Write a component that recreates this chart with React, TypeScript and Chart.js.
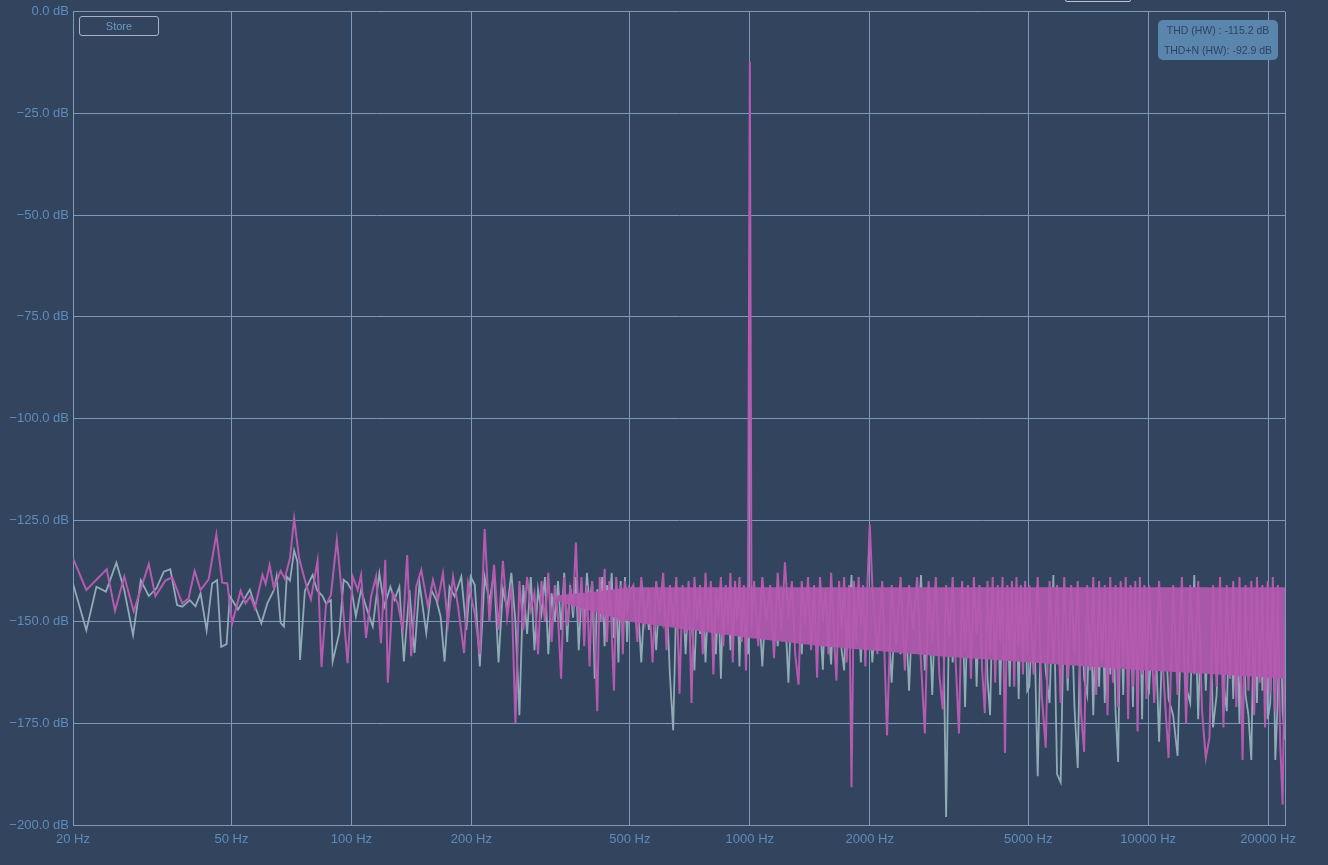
import React, { useEffect, useRef } from "react";
import { Chart, registerables } from "chart.js";

Chart.register(...registerables);

const BG = "#33445f";
const GRID = "#7d9aba";
const LABEL = "#5e8cbb";
const MAGENTA = "#b45bb0";
const BAND = "#a957a8";
const GREY = "#90abb6";

const xTickValues = [20, 50, 100, 200, 500, 1000, 2000, 5000, 10000, 20000];

// Low-frequency part, magenta trace (Hz / dB)
const magLowFreq = [
  20.0, 21.6, 24.3, 25.5, 26.9, 28.4, 31.0, 32.2, 34.1, 35.5,
  37.6, 39.0, 40.4, 41.8, 43.8, 45.8, 47.4, 48.8, 50.2, 52.7,
  54.2, 55.8, 57.2, 59.8, 60.9, 62.3, 63.9, 66.4, 68.0, 70.1,
  71.8, 73.9, 76.8, 79.1, 82.2, 84.1, 86.3, 88.8,
  91.9, 94.1, 97.8, 100.7, 103.7, 105.7, 108.8, 112.0, 115.3, 118.6,
  121.6, 123.4, 127.0, 130.7, 134.6, 138.0, 141.2, 145.4, 149.7, 155.6,
  160.2, 164.9, 169.7, 174.7, 179.9, 185.2, 191.7, 196.2,
];
const magLowDb = [
  -134.4, -142.2, -137.1, -147.3, -138.9, -147.5, -135.8, -143.7, -139.9, -139.1,
  -145.5, -144.3, -137.5, -142.2, -139.6, -128.5, -140.4, -140.6, -150.4, -142.4,
  -145.5, -143.7, -146.7, -138.5, -140.7, -136.1, -141.8, -137.5, -139.4, -134.4,
  -124.6, -134.4, -140.6, -144.5, -135, -161.1, -145.9, -143.4,
  -129.9, -140.5, -160.2, -138.9, -142.2, -138.5, -154, -143.8, -138.9, -155.3,
  -134.8, -165, -143, -145.5, -152, -133.6, -158.5, -141.4, -137.3, -146.3,
  -139.7, -144.6, -138.1, -150.4, -138.9, -146.3, -157.7, -140.5,
];

// Low-frequency part, grey trace (Hz / dB)
const greyLowFreq = [
  20.0, 21.6, 22.9, 24.2, 25.7, 26.9, 28.3, 29.6, 31.0, 32.4,
  33.8, 35.1, 36.5, 37.6, 39.3, 40.6, 41.8, 43.3, 44.7, 46.0,
  47.1, 48.6, 49.5, 51.9, 55.6, 57.5, 59.4, 61.5, 63.9, 64.9,
  66.4, 67.7, 68.8, 70.1, 71.8, 73.2, 74.3, 76.4, 79.9, 81.9,
  84.6, 86.3, 88.8,
  89.7, 93.2, 95.6, 97.8, 100.1, 102.6, 105.7, 108.8, 113.1, 117.5,
  120.9, 125.2, 128.2, 131.9, 135.4, 139.8, 144.0, 148.2, 154.1, 158.6,
  163.3, 167.4, 171.3, 176.3, 181.5, 188.7, 194.3, 199.2,
];
const greyLowDb = [
  -140.6, -152.1, -141.4, -142.6, -135.5, -142.2, -153.3, -139.8, -143.7, -141.8,
  -137.7, -137.1, -145.9, -146.3, -144.7, -146.2, -143, -152.1, -140.6, -139.8,
  -156.2, -155.5, -143.7, -147, -142.1, -146.7, -150.4, -145.5, -142.2, -138.8,
  -150.3, -151.2, -138.9, -139.9, -132.5, -135.3, -159.4, -142.4, -138.5, -142.2,
  -143.7, -145.5, -144.7,
  -159.8, -152.8, -139.7, -140.5, -142.2, -148.7, -142.2, -146.3, -151.2, -138.1,
  -146.3, -141.4, -144.6, -141.4, -159.8, -142.2, -157.7, -140.5, -152.8, -142.2,
  -144.6, -148.7, -159.8, -141.4, -143.8, -138.9, -152, -138.9,
];

// Shared frequency bins above 200 Hz
const hiFreq = [
  204, 210, 216, 222, 228, 234, 240, 246, 252, 258, 264, 270, 276, 282, 288, 294, 300, 306, 312, 318,
  324, 330, 336, 342, 348, 354, 360, 366, 372, 378, 384, 390, 396, 402, 408, 414, 420, 426, 432, 438,
  444, 450, 456, 462, 468, 474, 480, 486, 492, 498,
  510, 522, 534, 546, 558, 570, 582, 594, 606, 618, 630, 642, 654, 666, 678, 690, 702, 714, 726, 738,
  750, 762, 774, 786, 798, 810, 822, 834, 846, 858, 870, 882, 894, 906, 918, 930, 942, 954, 966, 978, 990,
  1000, 1010,
  1025, 1050, 1075, 1100, 1125, 1150, 1175, 1200, 1225, 1250, 1275, 1300, 1325, 1350, 1375, 1400, 1425,
  1450, 1475, 1500, 1525, 1550, 1575, 1600, 1625, 1650, 1675, 1700, 1725, 1750, 1775, 1800, 1825, 1850,
  1875, 1900, 1925, 1950, 1975,
  2000,
  2030, 2090, 2150, 2210, 2270, 2330, 2390, 2450, 2510, 2570, 2630, 2690, 2750, 2810, 2870, 2930, 2990,
  3050, 3110, 3170, 3230, 3290, 3350, 3410, 3470, 3530, 3590, 3650, 3710, 3770, 3830, 3890, 3950, 4010,
  4070, 4130, 4190, 4250, 4310, 4370, 4430, 4490, 4550, 4610, 4670, 4730, 4790, 4850, 4910, 4970,
  5030, 5155, 5280, 5405, 5530, 5655, 5780, 5905, 6030, 6155, 6280, 6405, 6530, 6655, 6780, 6905, 7030,
  7155, 7280, 7405, 7530, 7655, 7780, 7905, 8030, 8155, 8280, 8405, 8530, 8655, 8780, 8905, 9030, 9155,
  9280, 9405, 9530, 9655, 9780, 9905,
  10050, 10350, 10650, 10950, 11250, 11550, 11850, 12150, 12450, 12750, 13050, 13350, 13650, 13950,
  14250, 14550, 14850, 15150, 15450, 15750, 16050, 16350, 16650, 16950, 17250, 17550, 17850, 18150,
  18450, 18750, 19050, 19350, 19650, 19950, 20250, 20550, 20850, 21150, 21450, 21750, 22050,
];

const magHiDb = [
  -148, -158, -127.2, -150, -136, -152, -135, -149, -141, -175,
  -140, -152, -139, -147, -143, -158, -140, -150, -138, -155,
  -141, -149, -164, -139, -151, -142, -146, -130.5, -150, -139,
  -156, -141, -161, -140, -153, -172, -139, -150, -137, -155,
  -140, -152, -167, -139, -150, -141, -158, -140, -148, -143,
  -141, -155, -139, -150, -142, -160, -140, -148, -138, -157,
  -141, -151, -139, -167.7, -141, -153, -140, -170, -139, -150,
  -141, -158, -138, -152, -140, -163, -142, -149, -139, -156,
  -141, -151, -138, -160, -140, -150, -139, -155, -141, -162,
  -140,
  -12.3, -152,
  -140, -156, -139, -150, -141, -159, -138, -152, -135.4, -149,
  -140, -158, -165.5, -140, -151, -139, -157, -141, -163.8, -139,
  -150, -142, -158, -138, -153, -164.5, -140, -152, -139, -160,
  -141, -190.7, -140, -155, -139, -151, -141, -161, -140,
  -126.1,
  -141, -158, -140, -178, -141, -156, -139, -162, -141, -152,
  -139, -160, -177.5, -140, -155, -139, -163, -171.5, -141, -154,
  -139, -161, -177.5, -140, -157, -141, -164, -139, -153, -141,
  -162, -172.5, -140, -158, -139, -165, -141, -155, -139, -182.3,
  -141, -159, -140, -166, -139, -156, -141, -163, -140, -158,
  -141, -163, -139, -168, -181, -140, -160, -141, -170, -139,
  -164, -141, -158, -140, -172, -182, -141, -162, -139, -168,
  -140, -160, -141, -173, -139, -165, -141, -171, -140, -161,
  -139, -174, -141, -166, -140, -177, -139, -163, -141, -169,
  -141, -170, -140, -165, -183.5, -141, -168, -139, -175, -141,
  -163, -140, -172, -183.5, -178.5, -141, -166, -139, -176, -141,
  -164, -140, -171, -139, -184, -141, -167, -140, -173, -139,
  -165, -141, -176, -140, -168, -139, -172, -141, -180, -195,
  -150,
];

const greyHiDb = [
  -141, -161, -139, -145, -138, -160, -142, -147, -138, -150,
  -173, -141, -153, -139, -157, -142, -148, -139, -158, -143,
  -150, -140, -152, -138, -155, -141, -149, -139, -157, -143,
  -151, -138, -146, -140, -164, -142, -150, -139, -156, -141,
  -148, -138, -154, -143, -160, -140, -152, -139, -155, -142,
  -145, -143, -160, -142, -152, -142.5, -157, -142, -150, -143,
  -163, -176.7, -144, -150, -142, -158, -142.5, -149, -162, -143,
  -153, -142, -160, -144, -147, -142, -158, -142.5, -164, -143,
  -150, -142, -157, -144, -148, -142, -161, -142.5, -150, -142,
  -158,
  -145, -143,
  -152, -143, -161, -142.5, -149, -142, -156, -142.5, -147, -165,
  -143, -150, -142, -158, -142.5, -148, -142, -155, -143, -150,
  -161.8, -142, -152, -160.5, -142.5, -149, -142, -157, -162, -142.5,
  -150, -138.5, -156, -142.5, -148, -160, -143, -152, -142,
  -147,
  -160, -142.5, -157, -143, -165, -142, -158, -142.5, -167, -143,
  -156, -138.5, -162, -142.5, -168, -143, -155, -142, -198, -142.5,
  -160, -143, -157, -142, -171, -142.5, -158, -143, -166, -142,
  -157, -142.5, -164, -173, -143, -157, -142, -168, -142.5, -159,
  -143, -166, -142, -157, -142.5, -169, -143, -158, -142, -167,
  -166, -143, -188, -142.5, -162, -170, -138.5, -187.5, -189.5, -142.5,
  -167, -143, -171, -186, -142, -164, -168, -143, -173, -142.5,
  -166, -142, -170, -143, -163, -142.5, -172, -184.5, -142, -168,
  -142.5, -165, -143, -171, -142, -167, -142.5, -174, -143, -165,
  -167, -143, -179.5, -142.5, -169, -173, -183, -143, -166, -170,
  -138.5, -174, -142.5, -167, -142, -176, -168, -142.5, -165, -172,
  -142, -169, -142.5, -175, -143, -168, -173, -184, -142, -170,
  -142.5, -167, -142, -174, -170, -142.5, -184, -169, -143, -172,
  -179,
];

// Solid core of the dense noise floor (magenta)
const bandFreq = [330, 420, 500, 700, 1000, 1500, 2000, 3000, 5000, 7000, 10000, 15000, 22050];
const bandTopDb = [-143.5, -142.5, -141.5, -141.5, -141.5, -141.5, -141.5, -141.5, -141.5, -141.5, -141.5, -141.5, -141.5];
const bandBottomDb = [-145, -148, -150, -152, -154, -156, -157, -158.5, -160, -161, -162, -163, -164];

const yMin = -200;
const yMax = 0;
const yStep = 25;

const FONT = '"Liberation Sans", Arial, sans-serif';

export default function App() {
  const ref = useRef<HTMLCanvasElement>(null);

  useEffect(() => {
    document.body.style.margin = "0";
    document.body.style.background = BG;
    const pts = (fs: number[], ys: number[]) => fs.map((f, i) => ({ x: f, y: ys[i] }));
    const magenta = pts(magLowFreq, magLowDb).concat(pts(hiFreq, magHiDb));
    const grey = pts(greyLowFreq, greyLowDb).concat(pts(hiFreq, greyHiDb));

    const frame = {
      id: "frame",
      beforeDatasetsDraw(chart: any) {
        const { ctx, chartArea: a } = chart;
        ctx.save();
        ctx.strokeStyle = GRID;
        ctx.lineWidth = 1;
        ctx.beginPath();
        const x = Math.round(a.right) + 0.5;
        ctx.moveTo(x, a.top);
        ctx.lineTo(x, a.bottom);
        ctx.stroke();
        ctx.restore();
      },
    };

    const line = (data: any[], color: string, order: number, extra: any = {}) => ({
      data,
      borderColor: color,
      backgroundColor: color,
      borderWidth: 2,
      pointRadius: 0,
      tension: 0,
      order,
      ...extra,
    });

    const chart = new Chart(ref.current!, {
      type: "line",
      data: {
        datasets: [
          line(magenta, MAGENTA, 0),
          line(pts(bandFreq, bandTopDb), BAND, 1, { borderWidth: 0, fill: "+1", backgroundColor: BAND }),
          line(pts(bandFreq, bandBottomDb), BAND, 2, { borderWidth: 0, fill: false }),
          line(grey, GREY, 3, { borderWidth: 1.8 }),
        ],
      },
      options: {
        animation: false,
        responsive: false,
        maintainAspectRatio: false,
        devicePixelRatio: 1,
        layout: { padding: { top: 10, right: 43, left: 0, bottom: 0 } },
        plugins: { legend: { display: false }, tooltip: { enabled: false } },
        scales: {
          x: {
            type: "logarithmic",
            min: 20,
            max: 22050,
            afterBuildTicks: (scale: any) => {
              scale.ticks = xTickValues.map((v) => ({ value: v }));
            },
            afterFit: (scale: any) => {
              scale.height = 40;
            },
            grid: { color: GRID, lineWidth: 1, drawTicks: false },
            border: { color: GRID },
            ticks: {
              autoSkip: false,
              maxRotation: 0,
              minRotation: 0,
              padding: 7,
              color: LABEL,
              font: { family: FONT, size: 13 },
              callback: (v: any) => `${v} Hz`,
            },
          },
          y: {
            type: "linear",
            min: yMin,
            max: yMax,
            afterFit: (scale: any) => {
              scale.width = 73;
            },
            grid: { color: GRID, lineWidth: 1, drawTicks: false },
            border: { color: GRID },
            ticks: {
              stepSize: yStep,
              padding: 4,
              color: LABEL,
              font: { family: FONT, size: 13 },
              callback: (v: any) => `${v < 0 ? "\u2212" : ""}${Math.abs(Number(v)).toFixed(1)} dB`,
            },
          },
        },
      } as any,
      plugins: [frame],
    });
    return () => chart.destroy();
  }, []);

  return (
    <div style={{ position: "relative", width: 1328, height: 865, background: BG, overflow: "hidden" }}>
      <canvas ref={ref} width={1328} height={865} style={{ display: "block" }} />
      <div
        style={{
          position: "absolute",
          left: 1065,
          top: -20,
          width: 64,
          height: 20,
          border: "1px solid #b8c4d4",
          borderRadius: 2,
        }}
      />
      <div
        style={{
          position: "absolute",
          left: 79,
          top: 16,
          width: 78,
          height: 18,
          border: "1px solid #a6b3c6",
          borderRadius: 3,
          color: "#6a9ac4",
          font: `11px ${FONT}`,
          lineHeight: "18px",
          textAlign: "center",
        }}
      >
        Store
      </div>
      <div
        style={{
          position: "absolute",
          left: 1158,
          top: 20,
          width: 120,
          height: 40,
          background: "#5a86ad",
          borderRadius: 5,
          color: "#2e4462",
          font: `10.5px ${FONT}`,
          textAlign: "center",
        }}
      >
        <div style={{ position: "absolute", left: 0, right: 0, top: 4, lineHeight: "12px" }}>THD (HW) : -115.2 dB</div>
        <div style={{ position: "absolute", left: 0, right: 0, top: 24, lineHeight: "12px" }}>THD+N (HW): -92.9 dB</div>
      </div>
    </div>
  );
}
